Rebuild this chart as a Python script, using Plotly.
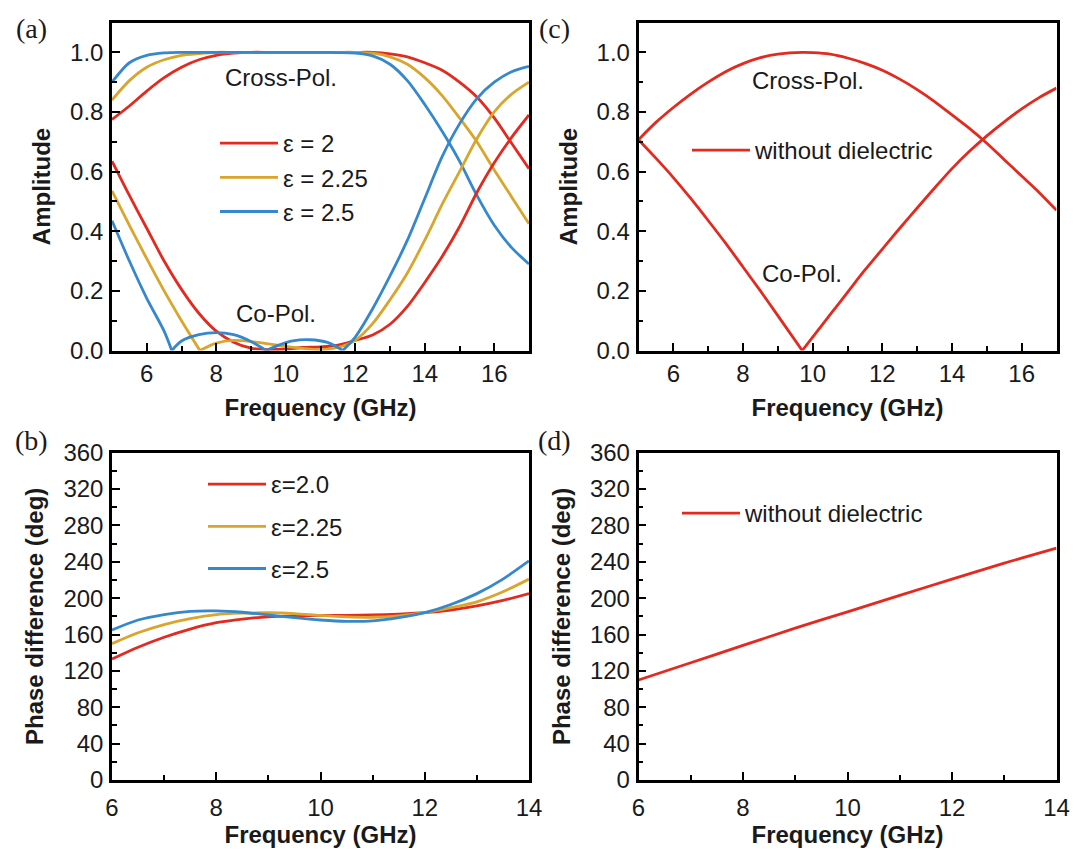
import plotly.graph_objects as go

# ---------------- data ----------------
# Panel (a): amplitude vs frequency (GHz)
freq_a_cross = [5, 5.5, 6, 6.5, 7, 7.5, 8, 8.5, 9, 9.5, 10, 10.5, 11, 11.5, 12, 12.5,
                13, 13.5, 14, 14.5, 15, 15.5, 16, 16.5, 17]
cross_e2 = [0.775, 0.82, 0.87, 0.915, 0.95, 0.975, 0.99, 0.997, 1.0, 1.0, 1.0, 1.0, 1.0,
            1.0, 1.0, 1.0, 0.995, 0.985, 0.965, 0.94, 0.90, 0.85, 0.78, 0.695, 0.61]
cross_e225 = [0.84, 0.905, 0.95, 0.975, 0.99, 0.996, 1.0, 1.0, 1.0, 1.0, 1.0, 1.0, 1.0,
              1.0, 1.0, 0.997, 0.985, 0.96, 0.915, 0.855, 0.78, 0.70, 0.605, 0.515, 0.425]
cross_e25 = [0.90, 0.965, 0.99, 0.998, 1.0, 1.0, 1.0, 1.0, 1.0, 1.0, 1.0, 1.0, 1.0,
             0.999, 0.997, 0.988, 0.96, 0.905, 0.825, 0.735, 0.635, 0.52, 0.42, 0.345, 0.29]

freq_a_co_e2 = freq_a_cross
co_e2 = [0.635, 0.52, 0.41, 0.30, 0.205, 0.125, 0.065, 0.028, 0.008, 0.003, 0.005, 0.01,
         0.012, 0.018, 0.034, 0.052, 0.088, 0.148, 0.228, 0.315, 0.415, 0.53, 0.63, 0.715,
         0.79]
freq_a_co_e225 = [5, 5.5, 6, 6.5, 7, 7.53, 8, 8.5, 9, 9.5, 10, 10.5, 11, 11.5, 12, 12.5,
                  13, 13.5, 14, 14.5, 15, 15.5, 16, 16.5, 17]
co_e225 = [0.535, 0.42, 0.308, 0.20, 0.10, 0.0, 0.025, 0.034, 0.03, 0.022, 0.014, 0.007,
           0.003, 0.01, 0.034, 0.09, 0.17, 0.26, 0.37, 0.49, 0.60, 0.71, 0.80, 0.86, 0.90]
freq_a_co_e25 = [5, 5.5, 6, 6.5, 6.72, 7, 7.5, 8, 8.5, 9, 9.44, 9.8, 10.2, 10.7, 11.2,
                 11.64, 12, 12.5, 13, 13.5, 14, 14.5, 15, 15.5, 16, 16.5, 17]
co_e25 = [0.435, 0.30, 0.175, 0.065, 0.0, 0.032, 0.053, 0.06, 0.053, 0.03, 0.0, 0.018, 0.032,
          0.036, 0.027, 0.0, 0.045, 0.14, 0.25, 0.37, 0.51, 0.65, 0.76, 0.845, 0.90,
          0.935, 0.953]

# Panel (b): phase difference (deg)
freq_b = [6, 6.5, 7, 7.5, 8, 8.5, 9, 9.5, 10, 10.5, 11, 11.5, 12, 12.5, 13, 13.5, 14]
phase_e2 = [133, 146, 157, 166, 173, 177, 179.5, 180.5, 181, 181, 181.5, 182.5, 184, 187,
            191.5, 197.5, 205]
phase_e225 = [150, 162, 171, 177.5, 182, 183.5, 184, 183, 181, 179.5, 179, 180.5, 184,
              189.5, 196, 207, 221]
phase_e25 = [165, 176, 182, 185.5, 186, 184.5, 181.5, 178.5, 176, 174.5, 175, 178.5, 184,
             193, 205, 221, 241]

# Panel (c): without dielectric, amplitude
freq_c = [5, 5.5, 6, 6.5, 7, 7.5, 8, 8.5, 9, 9.7, 10, 10.5, 11, 11.5, 12, 12.5, 13, 13.5,
          14, 14.5, 15, 15.5, 16, 16.5, 17]
cross_c = [0.707, 0.765, 0.815, 0.86, 0.90, 0.935, 0.962, 0.982, 0.994, 1.0, 0.999, 0.994,
           0.981, 0.963, 0.94, 0.91, 0.875, 0.835, 0.79, 0.745, 0.695, 0.64, 0.585, 0.53,
           0.47]
co_c = [0.707, 0.645, 0.58, 0.51, 0.436, 0.36, 0.28, 0.20, 0.117, 0.0, 0.045, 0.12, 0.195,
        0.27, 0.34, 0.41, 0.478, 0.545, 0.61, 0.668, 0.72, 0.767, 0.81, 0.848, 0.88]

# Panel (d): without dielectric, phase difference
freq_d = [6, 7, 8, 9, 10, 11, 12, 13, 14]
phase_d = [110, 129, 148, 167, 185, 203, 221, 238.5, 255]

labels_a = ["ε = 2", "ε = 2.25", "ε = 2.5"]
labels_b = ["ε=2.0", "ε=2.25", "ε=2.5"]
label_nd = "without dielectric"

# ---------------- style ----------------
RED = "#E4291F"
GOLD = "#D9A52C"
BLUE = "#3588CB"
FONT = "Arial, 'Liberation Sans', Helvetica, sans-serif"
SERIF = "'Times New Roman', 'Liberation Serif', serif"
LW = 2.8
TXT = "#1a1a1a"

# the page body has an 8px default margin: size the figure to fill the rest
OFF = 8
W, H = 1084 - OFF, 850 - OFF


def px(x):
    return (x - OFF) / W


def py(y):
    return 1 - (y - OFF) / H


fig = go.Figure()


def split_at_zeros(x, y):
    """Break a |.|-type curve into pieces at its zero (cusp) points so the
    spline keeps a sharp V there."""
    xs, ys = [], []
    n = len(x)
    for i in range(n):
        xs.append(x[i])
        ys.append(y[i])
        if 0 < i < n - 1 and y[i] == 0:
            xs.extend([x[i], x[i]])
            ys.extend([None, y[i]])
    return xs, ys


def add(x, y, color, xa, ya, name, show, legend, group):
    xs, ys = split_at_zeros(x, y)
    fig.add_trace(go.Scatter(
        x=xs, y=ys, mode="lines", name=name, showlegend=show, legend=legend,
        legendgroup=group, xaxis=xa, yaxis=ya, hoverinfo="skip", connectgaps=False,
        line=dict(color=color, width=LW, shape="spline", smoothing=0.8)))


# (a)
add(freq_a_cross, cross_e2, RED, "x", "y", labels_a[0], True, "legend", "a1")
add(freq_a_cross, cross_e225, GOLD, "x", "y", labels_a[1], True, "legend", "a2")
add(freq_a_cross, cross_e25, BLUE, "x", "y", labels_a[2], True, "legend", "a3")
add(freq_a_co_e2, co_e2, RED, "x", "y", labels_a[0], False, "legend", "a1")
add(freq_a_co_e225, co_e225, GOLD, "x", "y", labels_a[1], False, "legend", "a2")
add(freq_a_co_e25, co_e25, BLUE, "x", "y", labels_a[2], False, "legend", "a3")
# (c)
add(freq_c, cross_c, RED, "x2", "y2", label_nd, True, "legend3", "c1")
add(freq_c, co_c, RED, "x2", "y2", label_nd, False, "legend3", "c1")
# (b)
add(freq_b, phase_e2, RED, "x3", "y3", labels_b[0], True, "legend2", "b1")
add(freq_b, phase_e225, GOLD, "x3", "y3", labels_b[1], True, "legend2", "b2")
add(freq_b, phase_e25, BLUE, "x3", "y3", labels_b[2], True, "legend2", "b3")
# (d)
add(freq_d, phase_d, RED, "x4", "y4", label_nd, True, "legend4", "d1")

xl = [px(112), px(529)]
xr = [px(638.5), px(1056.5)]
yt = [py(350.5), py(22.5)]
yb = [py(780), py(452.7)]

base = dict(showline=True, linecolor="black", linewidth=2.5, mirror=True,
            ticks="inside", ticklen=8, tickwidth=2, tickcolor="black",
            showgrid=False, zeroline=False, automargin=False,
            tickfont=dict(family=FONT, size=24, color=TXT),
            minor=dict(ticks="inside", ticklen=5, tickwidth=2, tickcolor="black",
                       showgrid=False))


def xax(domain, anchor, rng, title, lab_off, title_off):
    d = dict(base)
    d.update(domain=domain, anchor=anchor, range=rng, dtick=2, tick0=0,
             ticklabelstandoff=lab_off, minor=dict(base["minor"], dtick=1),
             title=dict(text="<b>%s</b>" % title, standoff=title_off,
                        font=dict(family=FONT, size=24, color=TXT)))
    return d


def yax(domain, anchor, rng, dtick, mdtick, fmt, title):
    d = dict(base)
    d.update(domain=domain, anchor=anchor, range=rng, dtick=dtick, tick0=0,
             ticklabelstandoff=1, tickformat=fmt, minor=dict(base["minor"], dtick=mdtick),
             title=dict(text="<b>%s</b>" % title, standoff=13,
                        font=dict(family=FONT, size=24, color=TXT)))
    return d


leg = dict(xanchor="left", yanchor="top", bgcolor="rgba(0,0,0,0)",
           font=dict(family=FONT, size=24, color=TXT), itemwidth=58)

fig.update_layout(
    template="none",
    width=W, height=H, margin=dict(l=0, r=0, t=0, b=0, autoexpand=False),
    paper_bgcolor="white", plot_bgcolor="white",
    font=dict(family=FONT, color=TXT),
    xaxis=xax(xl, "y", [5, 17], "Frequency (GHz)", 0, 14),
    yaxis=yax(yt, "x", [0, 1.1], 0.2, 0.1, ".1f", "Amplitude"),
    xaxis2=xax(xr, "y2", [5, 17], "Frequency (GHz)", 0, 14),
    yaxis2=yax(yt, "x2", [0, 1.1], 0.2, 0.1, ".1f", "Amplitude"),
    xaxis3=xax(xl, "y3", [6, 14], "Frequency (GHz)", 4, 4),
    yaxis3=yax(yb, "x3", [0, 360], 40, 20, "d", "Phase difference (deg)"),
    xaxis4=xax(xr, "y4", [6, 14], "Frequency (GHz)", 4, 4),
    yaxis4=yax(yb, "x4", [0, 360], 40, 20, "d", "Phase difference (deg)"),
    legend=dict(leg, x=px(215), y=py(121), tracegroupgap=0),
    legend2=dict(leg, x=px(203), y=py(462), tracegroupgap=8),
    legend3=dict(leg, x=px(687), y=py(128)),
    legend4=dict(leg, x=px(677), y=py(491)),
    showlegend=True,
)

ann = [
    dict(text="(a)", x=px(31), y=py(29)),
    dict(text="(b)", x=px(31), y=py(440)),
    dict(text="(c)", x=px(554), y=py(29)),
    dict(text="(d)", x=px(554), y=py(440)),
]
for a in ann:
    fig.add_annotation(xref="paper", yref="paper", showarrow=False,
                       xanchor="center", yanchor="middle", borderpad=0,
                       font=dict(family=SERIF, size=28, color=TXT), **a)

notes = [
    dict(text="Cross-Pol.", x=9.85, y=0.917, xref="x", yref="y"),
    dict(text="Co-Pol.", x=9.72, y=0.124, xref="x", yref="y"),
    dict(text="Cross-Pol.", x=9.88, y=0.905, xref="x2", yref="y2"),
    dict(text="Co-Pol.", x=9.70, y=0.258, xref="x2", yref="y2"),
]
for n in notes:
    fig.add_annotation(showarrow=False, xanchor="center", yanchor="middle",
                       font=dict(family=FONT, size=24, color=TXT), **n)

fig.write_html("out.html")
